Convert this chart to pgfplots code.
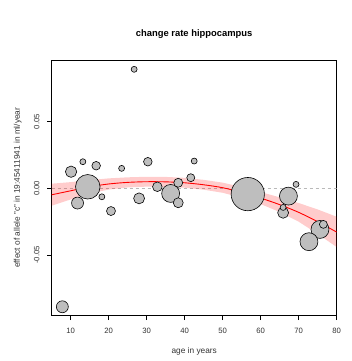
\documentclass[border=0pt]{standalone}
\usepackage{pgfplots}
\pgfplotsset{compat=1.18}
\usepackage{fontspec}
\setmainfont{Liberation Sans}
\definecolor{ptgray}{RGB}{190,190,190}
\definecolor{zerogray}{RGB}{185,185,185}
\begin{document}
\begin{tikzpicture}
\useasboundingbox (0,0) rectangle (352bp,361bp);
\begin{axis}[
  at={(51.7bp,45.3bp)}, anchor=south west,
  scale only axis, width=285bp, height=255.7bp,
  xmin=5, xmax=80, ymin=-0.0955, ymax=0.0963,
  xtick={10,20,30,40,50,60,70,80},
  ytick={-0.05,0,0.05}, yticklabels={-0.05,0.00,0.05},
  scaled y ticks=false,
  tick align=outside, major tick length=4.5bp,
  xtick pos=left, ytick pos=left,
  axis line style={line width=0.7pt},
  tick style={line width=0.7pt, black},
  /pgf/number format/assume math mode=true,
  tick label style={font=\fontsize{7.7bp}{9bp}\selectfont, text=black!80},
  xticklabel style={anchor=center, yshift=-10.5bp},
  yticklabel style={anchor=center, xshift=-10.5bp, rotate=90},
  xlabel={age in years},
  ylabel={effect of allele "c" in 19:45411941 in ml/year},
  label style={font=\fontsize{8.3bp}{10bp}\selectfont, text=black!80},
  xlabel style={at={(axis description cs:0.5,-0.1408)}, anchor=center},
  ylabel style={at={(axis description cs:-0.1193,0.5)}, anchor=center},
  title={change rate hippocampus},
  title style={at={(axis description cs:0.5,1.0782)}, anchor=center, font=\bfseries\fontsize{9.4bp}{11bp}\selectfont},
]
% zero reference line
\addplot[zerogray, dash pattern=on 3bp off 3bp, line width=0.6pt] coordinates {(5,0) (80,0)};
% studies (bubble size = weight)
\addplot[
  scatter, only marks, mark=*,
  visualization depends on={\thisrow{r}\as\rad},
  scatter/use mapped color={draw=black, fill=ptgray},
  scatter/@pre marker code/.append style={/tikz/mark size=\rad pt},
  line width=0.6pt,
] table {
x y r
56.6 -0.0043 16.7
14.5 0.0012 12.3
36.3 -0.0038 9.0
67.3 -0.0058 9.0
75.6 -0.0308 9.0
72.7 -0.0400 9.0
7.8 -0.0888 6.0
11.8 -0.0110 6.0
10.1 0.0125 5.7
28.0 -0.0075 5.5
65.9 -0.0183 5.5
32.8 0.0012 4.8
38.3 -0.0108 5.0
38.3 0.0042 4.5
20.6 -0.0170 4.5
16.7 0.0170 4.3
30.3 0.0200 4.3
41.6 0.0080 4.0
76.5 -0.0270 4.0
13.2 0.0200 3.0
18.2 -0.0063 3.0
23.4 0.0150 3.0
26.7 0.0893 3.0
42.5 0.0205 3.0
69.3 0.0030 3.0
65.9 -0.0143 3.0
};
% confidence band
\addplot[fill=red, fill opacity=0.2, draw=none] coordinates {
(5,0.0035) (10,0.0047) (15,0.0062) (20,0.0075) (25,0.0083) (30,0.0087)
(35,0.0086) (40,0.0079) (45,0.0064) (50,0.0043) (55,0.0010) (60,-0.0028)
(65,-0.0067) (70,-0.0110) (75,-0.0158) (80,-0.0213)
(80,-0.0440) (75,-0.0342) (70,-0.0250) (65,-0.0177) (60,-0.0118) (55,-0.0070)
(50,-0.0033) (45,-0.0010) (40,0.0005) (35,0.0012) (30,0.0013) (25,0.0007)
(20,-0.0009) (15,-0.0038) (10,-0.0083) (5,-0.0130)
} -- cycle;
% fitted curve
\addplot[red, line width=0.9pt, smooth] coordinates {
(5,-0.0048) (10,-0.0018) (15,0.0012) (20,0.0033) (25,0.0045) (30,0.0050)
(35,0.0049) (40,0.0042) (45,0.0027) (50,0.0005) (55,-0.0030) (60,-0.0073)
(65,-0.0122) (70,-0.0180) (75,-0.0250) (80,-0.0328)
};
\end{axis}
\end{tikzpicture}
\end{document}
